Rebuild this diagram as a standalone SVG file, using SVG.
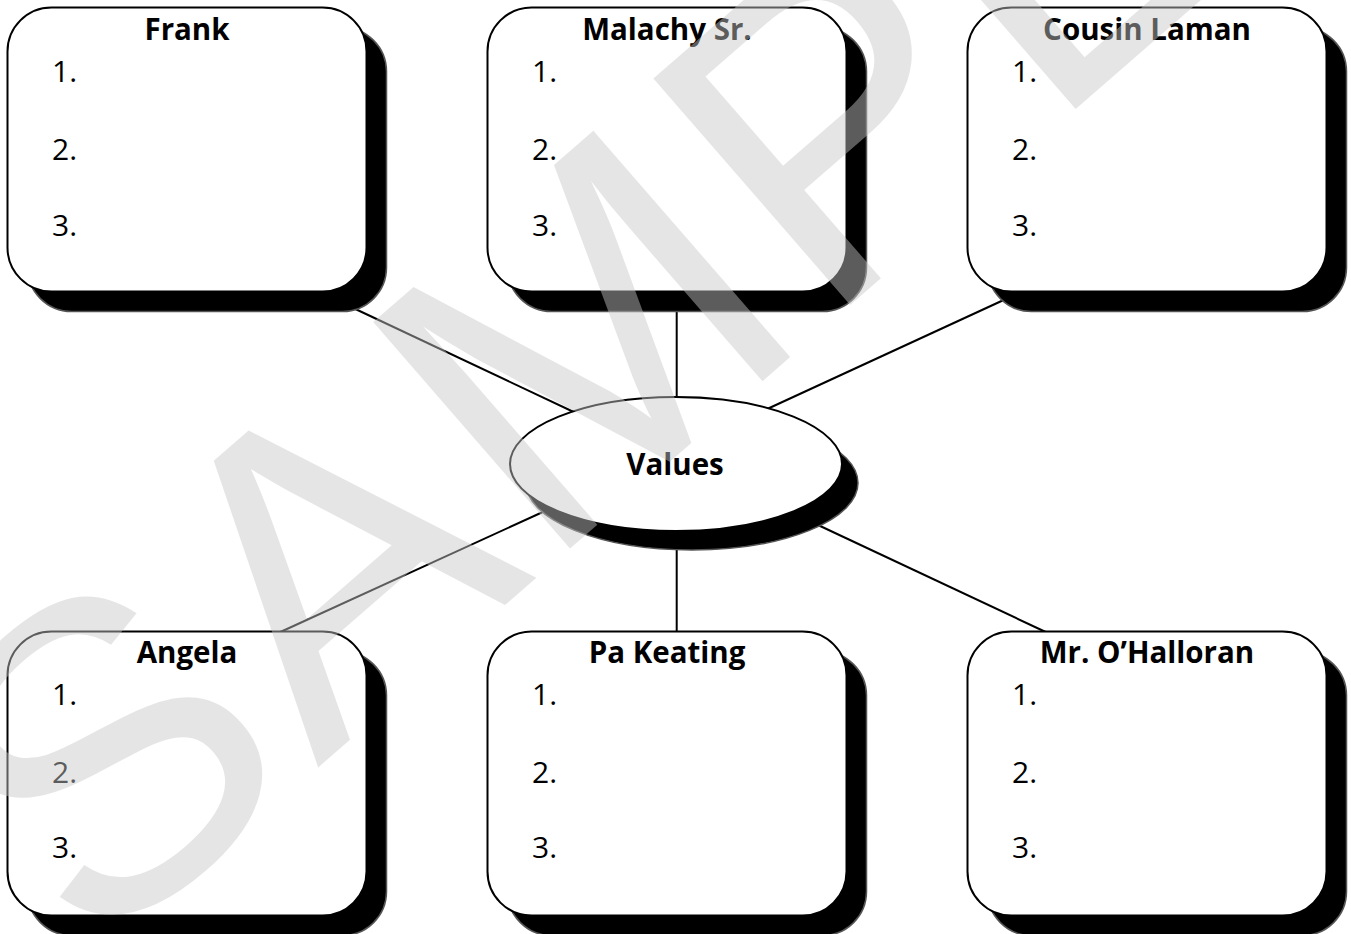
<svg xmlns="http://www.w3.org/2000/svg" width="1351" height="934" viewBox="0 0 1351 934">
<style>
.shadow{fill:#000;stroke:#555;stroke-width:1.5}
.box{fill:#fff;stroke:#000;stroke-width:2}
.title{font-family:"Open Sans","Noto Sans",sans-serif;font-weight:bold;font-size:29.5px;fill:#000;text-anchor:middle}
.num{font-family:"Open Sans","Noto Sans",sans-serif;font-size:30px;fill:#000}
.conn{stroke:#000;stroke-width:2;fill:none}
.wm{font-family:"Liberation Sans",Arial,sans-serif;font-size:436px;letter-spacing:8px;fill:#c8c8c8;opacity:0.46}
</style>
<defs>
<rect id="sh" class="shadow" width="359" height="284" rx="44" ry="44"/>
<rect id="bx" class="box" width="359" height="284" rx="44" ry="44"/>
</defs>
<rect width="1351" height="934" fill="#fff"/>
<g id="connectors">
<line class="conn" x1="349" y1="306" x2="578" y2="414"/>
<line class="conn" x1="676.7" y1="300" x2="676.7" y2="420"/>
<line class="conn" x1="1008" y1="298" x2="765" y2="410"/>
<line class="conn" x1="276" y1="634" x2="545" y2="511"/>
<line class="conn" x1="676.7" y1="520" x2="676.7" y2="640"/>
<line class="conn" x1="818" y1="525" x2="1050" y2="634"/>
</g>
<g id="node-frank">
<use href="#sh" x="27.5" y="27.5"/>
<use href="#bx" x="7.5" y="7.5"/>
<text class="title" x="187" y="39.5">Frank</text>
<text class="num" x="52" y="81.5">1.</text>
<text class="num" x="52" y="159.5">2.</text>
<text class="num" x="52" y="235.5">3.</text>
</g>
<g id="node-malachy">
<use href="#sh" x="507.5" y="27.5"/>
<use href="#bx" x="487.5" y="7.5"/>
<text class="title" x="667" y="39.5">Malachy Sr.</text>
<text class="num" x="532" y="81.5">1.</text>
<text class="num" x="532" y="159.5">2.</text>
<text class="num" x="532" y="235.5">3.</text>
</g>
<g id="node-cousin-laman">
<use href="#sh" x="987.5" y="27.5"/>
<use href="#bx" x="967.5" y="7.5"/>
<text class="title" x="1147" y="39.5">Cousin Laman</text>
<text class="num" x="1012" y="81.5">1.</text>
<text class="num" x="1012" y="159.5">2.</text>
<text class="num" x="1012" y="235.5">3.</text>
</g>
<g id="node-values">
<ellipse cx="692" cy="483" rx="166" ry="67" fill="#000" stroke="#555" stroke-width="1.5"/>
<ellipse cx="676" cy="464" rx="166" ry="67" fill="#fff" stroke="#000" stroke-width="2"/>
<text class="title" x="675" y="475">Values</text>
</g>
<g id="node-angela">
<use href="#sh" x="27.5" y="651.5"/>
<use href="#bx" x="7.5" y="631.5"/>
<text class="title" x="187" y="663">Angela</text>
<text class="num" x="52" y="705">1.</text>
<text class="num" x="52" y="783">2.</text>
<text class="num" x="52" y="858">3.</text>
</g>
<g id="node-pa-keating">
<use href="#sh" x="507.5" y="651.5"/>
<use href="#bx" x="487.5" y="631.5"/>
<text class="title" x="667" y="663">Pa Keating</text>
<text class="num" x="532" y="705">1.</text>
<text class="num" x="532" y="783">2.</text>
<text class="num" x="532" y="858">3.</text>
</g>
<g id="node-ohalloran">
<use href="#sh" x="987.5" y="651.5"/>
<use href="#bx" x="967.5" y="631.5"/>
<text class="title" x="1147" y="663">Mr. O’Halloran</text>
<text class="num" x="1012" y="705">1.</text>
<text class="num" x="1012" y="783">2.</text>
<text class="num" x="1012" y="858">3.</text>
</g>
<text class="wm" x="92" y="964" transform="rotate(-41 92 964)">SAMPLE</text>
</svg>
